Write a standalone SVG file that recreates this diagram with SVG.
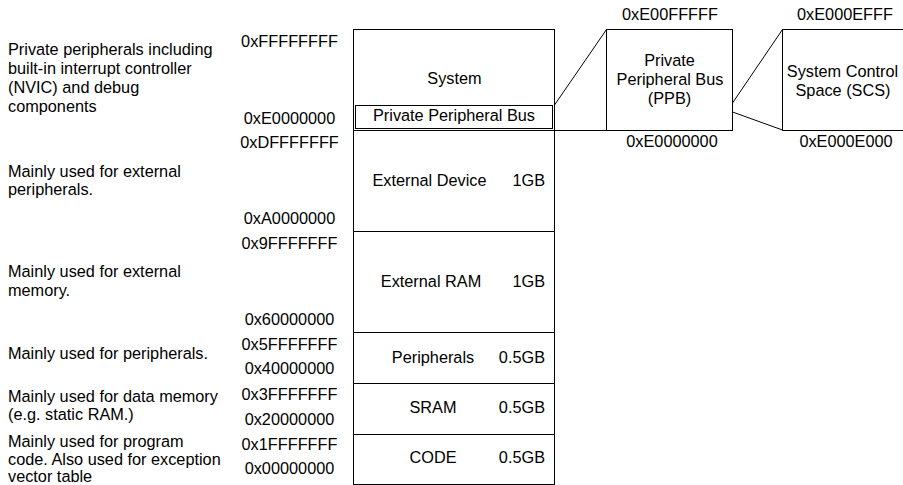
<svg xmlns="http://www.w3.org/2000/svg" width="903" height="485" viewBox="0 0 903 485">
<style>
text{font-family:"Liberation Sans",Arial,sans-serif;font-size:16.3px;fill:#000}
.m{text-anchor:middle}
.e{text-anchor:end}
.box{fill:#fff;stroke:#000;stroke-width:1}
.ln{stroke:#000;stroke-width:1;fill:none}
</style>
<rect width="903" height="485" fill="#fff"/>
<g id="descriptions">
<text x="8" y="55">Private peripherals including</text>
<text x="8" y="74">built-in interrupt controller</text>
<text x="8" y="93">(NVIC) and debug</text>
<text x="8" y="112">components</text>
<text x="8" y="177">Mainly used for external</text>
<text x="8" y="195">peripherals.</text>
<text x="8" y="277">Mainly used for external</text>
<text x="8" y="296">memory.</text>
<text x="8" y="359">Mainly used for peripherals.</text>
<text x="8" y="402">Mainly used for data memory</text>
<text x="8" y="420">(e.g. static RAM.)</text>
<text x="8" y="447">Mainly used for program</text>
<text x="8" y="465">code. Also used for exception</text>
<text x="8" y="482">vector table</text>
</g>
<g id="addresses">
<text class="m" x="289.5" y="47">0xFFFFFFFF</text>
<text class="m" x="289.5" y="124">0xE0000000</text>
<text class="m" x="289.5" y="148">0xDFFFFFFF</text>
<text class="m" x="289.5" y="224">0xA0000000</text>
<text class="m" x="289.5" y="249">0x9FFFFFFF</text>
<text class="m" x="289.5" y="325">0x60000000</text>
<text class="m" x="289.5" y="350">0x5FFFFFFF</text>
<text class="m" x="289.5" y="374">0x40000000</text>
<text class="m" x="289.5" y="400">0x3FFFFFFF</text>
<text class="m" x="289.5" y="425">0x20000000</text>
<text class="m" x="289.5" y="450">0x1FFFFFFF</text>
<text class="m" x="289.5" y="474">0x00000000</text>
</g>
<g id="system">
<rect class="box" x="353.5" y="29.5" width="201" height="101"/>
<text class="m" x="454.5" y="84">System</text>
</g>
<g id="ppb-region">
<rect class="box" x="355.5" y="105.5" width="197" height="23"/>
<text class="m" x="454" y="121">Private Peripheral Bus</text>
</g>
<g id="external-device">
<rect class="box" x="353.5" y="130.5" width="201" height="101"/>
<text class="m" x="429.5" y="186">External Device</text>
<text class="e" x="545" y="186">1GB</text>
</g>
<g id="external-ram">
<rect class="box" x="353.5" y="231.5" width="201" height="101"/>
<text class="m" x="431" y="287">External RAM</text>
<text class="e" x="545" y="287">1GB</text>
</g>
<g id="peripherals">
<rect class="box" x="353.5" y="332.5" width="201" height="51"/>
<text class="m" x="433" y="363">Peripherals</text>
<text class="e" x="545" y="363">0.5GB</text>
</g>
<g id="sram">
<rect class="box" x="353.5" y="383.5" width="201" height="51"/>
<text class="m" x="433" y="413">SRAM</text>
<text class="e" x="545" y="413">0.5GB</text>
</g>
<g id="code">
<rect class="box" x="353.5" y="434.5" width="201" height="50"/>
<text class="m" x="433" y="463">CODE</text>
<text class="e" x="545" y="463">0.5GB</text>
</g>
<g id="ppb">
<rect class="box" x="606.5" y="29.5" width="126" height="101"/>
<text class="m" x="669.5" y="66">Private</text>
<text class="m" x="670" y="85">Peripheral Bus</text>
<text class="m" x="669.5" y="104">(PPB)</text>
<text class="m" x="670" y="20">0xE00FFFFF</text>
<text class="m" x="672" y="147">0xE0000000</text>
</g>
<g id="scs">
<rect class="box" x="782.5" y="29.5" width="140" height="101"/>
<text class="m" x="842.5" y="77">System Control</text>
<text class="m" x="843" y="96">Space (SCS)</text>
<text class="m" x="845" y="20">0xE000EFFF</text>
<text class="m" x="846" y="147">0xE000E000</text>
</g>
<g id="connectors">
<line class="ln" x1="554.5" y1="105" x2="606.5" y2="29.5"/>
<line class="ln" x1="554.5" y1="130.5" x2="606.5" y2="130.5"/>
<line class="ln" x1="732.5" y1="103" x2="782.5" y2="29.5"/>
<line class="ln" x1="732.5" y1="112" x2="782.5" y2="130"/>
</g>
</svg>
